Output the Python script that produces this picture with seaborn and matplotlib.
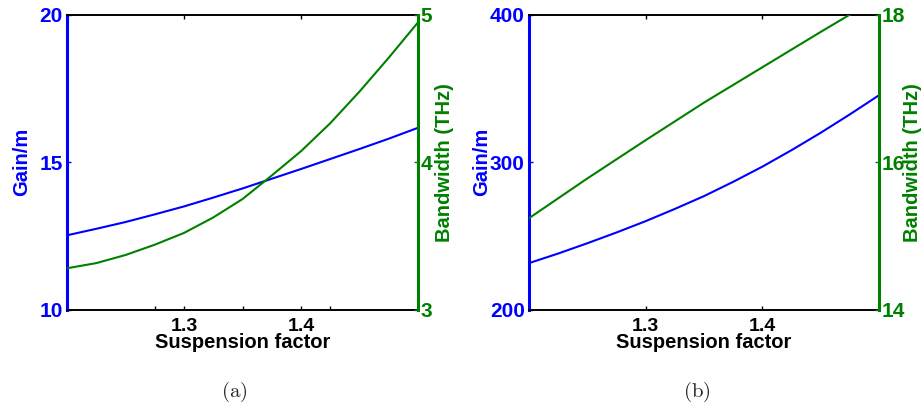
import numpy as np
import pandas as pd
import matplotlib
matplotlib.use('Agg')
import matplotlib.pyplot as plt
import seaborn as sns
from matplotlib.ticker import FixedLocator, NullFormatter

# ---- data ----
suspension = [1.200, 1.225, 1.250, 1.275, 1.300, 1.325, 1.350,
              1.375, 1.400, 1.425, 1.450, 1.475, 1.500]
gain_a = [12.52, 12.74, 12.97, 13.23, 13.50, 13.80, 14.11,
          14.44, 14.77, 15.11, 15.45, 15.80, 16.17]
bw_a = [3.28, 3.315, 3.37, 3.44, 3.52, 3.625, 3.75,
        3.91, 4.075, 4.265, 4.48, 4.71, 4.95]
gain_b = [231.5, 238.0, 245.0, 252.3, 260.0, 268.3, 277.0,
          286.7, 297.0, 308.2, 320.0, 332.5, 345.5]
bw_b = [15.24, 15.51, 15.78, 16.04, 16.30, 16.555, 16.81,
        17.05, 17.29, 17.53, 17.77, 18.005, 18.24]

x_ticks = [1.3, 1.4]
x_ticklabels = ['1.3', '1.4']
minor_ticks_a = [1.275, 1.35, 1.425]
gain_ticks_a = [10, 15, 20]
bw_ticks_a = [3, 4, 5]
gain_ticks_b = [200, 300, 400]
bw_ticks_b = [14, 16, 18]
captions = ['(a)', '(b)']

BLUE = '#0000ff'
GREEN = '#008000'

sns.set_theme(style='white')
plt.rcParams['font.family'] = ['Liberation Sans', 'DejaVu Sans']
plt.rcParams['font.weight'] = 'bold'
plt.rcParams['axes.labelweight'] = 'bold'
plt.rcParams['mathtext.fontset'] = 'cm'

fig = plt.figure(figsize=(9.24, 4.09), dpi=100)

W, H = 924, 409


def make_panel(left_px, right_px, gain, bw, gticks, bticks, minor, glabel_x, blabel_x):
    ax = fig.add_axes([left_px / W, 1 - 309.5 / H, (right_px - left_px) / W, (309.5 - 15) / H])
    df = pd.DataFrame({'Suspension factor': suspension, 'Gain/m': gain, 'Bandwidth (THz)': bw})
    sns.lineplot(data=df, x='Suspension factor', y='Gain/m', ax=ax, color=BLUE, linewidth=1.5)
    ax2 = ax.twinx()
    sns.lineplot(data=df, x='Suspension factor', y='Bandwidth (THz)', ax=ax2, color=GREEN, linewidth=1.5)

    ax.set_xlim(1.2, 1.5)
    ax.set_ylim(gticks[0], gticks[-1])
    ax2.set_ylim(bticks[0], bticks[-1])

    ax.set_xticks(x_ticks)
    ax.set_xticklabels(x_ticklabels)
    ax.set_yticks(gticks)
    ax.set_yticklabels([str(t) for t in gticks])
    ax2.set_yticks(bticks)
    ax2.set_yticklabels([str(t) for t in bticks])

    if minor:
        ax.xaxis.set_minor_locator(FixedLocator(minor))
        ax.xaxis.set_minor_formatter(NullFormatter())
        ax.tick_params(axis='x', which='minor', bottom=True, top=False,
                       direction='in', length=3, width=1, color='black')

    ax.tick_params(axis='x', which='major', bottom=True, top=True, direction='in',
                   length=3, width=1, color='black', labelcolor='black',
                   labelsize=14, pad=6)
    ax.tick_params(axis='y', left=True, right=False, direction='in', length=3,
                   width=1, colors=BLUE, labelsize=15, pad=3)
    ax2.tick_params(axis='y', right=True, left=False, direction='in', length=3,
                    width=1, colors=GREEN, labelsize=15, pad=2)
    for lab in ax.get_xticklabels() + ax.get_yticklabels() + ax2.get_yticklabels():
        lab.set_fontweight('bold')

    ax.set_xlabel('Suspension factor', fontsize=14.5, fontweight='bold', color='black', labelpad=-1)
    ax.set_ylabel('Gain/m', fontsize=14.5, fontweight='bold', color=BLUE)
    ax2.set_ylabel('Bandwidth (THz)', fontsize=14.5, fontweight='bold', color=GREEN)
    ax.yaxis.set_label_coords(glabel_x, 0.5)
    ax2.yaxis.set_label_coords(blabel_x, 0.5)

    for s in ['top', 'bottom']:
        ax.spines[s].set_color('black')
        ax.spines[s].set_linewidth(1.4)
        ax2.spines[s].set_visible(False)
    ax.spines['left'].set_color(BLUE)
    ax.spines['left'].set_linewidth(2.2)
    ax.spines['right'].set_visible(False)
    ax2.spines['left'].set_visible(False)
    ax2.spines['right'].set_color(GREEN)
    ax2.spines['right'].set_linewidth(2.2)
    return ax, ax2


make_panel(67, 418, gain_a, bw_a, gain_ticks_a, bw_ticks_a, minor_ticks_a, -0.103, 1.048)
make_panel(529, 879, gain_b, bw_b, gain_ticks_b, bw_ticks_b, None, -0.109, 1.069)

fig.text(234 / W, 1 - 392 / H, r'$\mathrm{' + captions[0] + '}$', ha='center', va='center', fontsize=15)
fig.text(697 / W, 1 - 392 / H, r'$\mathrm{' + captions[1] + '}$', ha='center', va='center', fontsize=15)

fig.savefig('out.png', dpi=100)
